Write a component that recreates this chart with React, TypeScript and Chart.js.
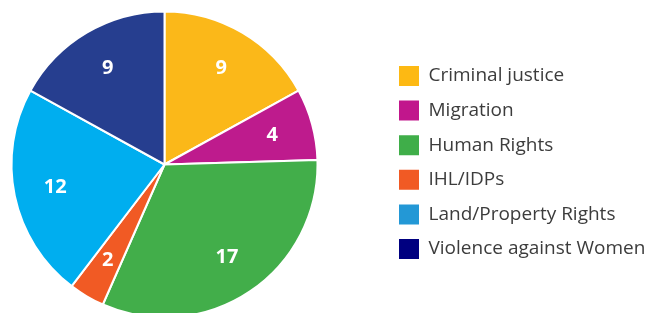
import React, { useEffect, useRef } from "react";
import { Chart, registerables } from "chart.js";

Chart.register(...registerables);

const categories = [
  "Criminal justice",
  "Migration",
  "Human Rights",
  "IHL/IDPs",
  "Land/Property Rights",
  "Violence against Women",
];
const values = [9, 4, 17, 2, 12, 9];
const sliceColors = ["#FBB819", "#BE1B8D", "#42AE4A", "#F15A24", "#00AEEF", "#263E8F"];
const legendColors = ["#FDB913", "#C1168C", "#3FAE49", "#F15A24", "#2398D6", "#000080"];

const CANVAS_W = 649;
const CANVAS_H = 312;
const AREA_RIGHT = 310.5;
const LEGEND_BOX_X = 391;
const LEGEND_FIRST_Y = 58;
const LEGEND_PAD = 14.6;
const LEGEND_FONT = 19;

const legendPlacer = {
  id: "legendPlacer",
  beforeLayout(chart: any) {
    const lg = chart.legend;
    if (lg && !lg.__patched) {
      const orig = lg.fit.bind(lg);
      lg.fit = function () {
        orig();
        this.width = CANVAS_W - AREA_RIGHT;
      };
      lg.__patched = true;
    }
  },
  afterLayout(chart: any) {
    const lg = chart.legend;
    if (!lg) return;
    lg.left = LEGEND_BOX_X - LEGEND_PAD;
    lg.right = CANVAS_W;
    lg.width = lg.right - lg.left;
    lg.top = LEGEND_FIRST_Y - LEGEND_PAD;
    lg.bottom = CANVAS_H;
    lg.height = lg.bottom - lg.top;
  },
};

const valueLabels = {
  id: "valueLabels",
  afterDatasetsDraw(chart: any) {
    const meta = chart.getDatasetMeta(0);
    const ctx = chart.ctx;
    ctx.save();
    ctx.fillStyle = "#ffffff";
    ctx.font = 'bold 20px "Open Sans"';
    ctx.textAlign = "center";
    ctx.textBaseline = "middle";
    meta.data.forEach((arc: any, i: number) => {
      const { x, y, startAngle, endAngle, outerRadius } = arc.getProps(
        ["x", "y", "startAngle", "endAngle", "outerRadius"],
        true
      );
      const mid = (startAngle + endAngle) / 2;
      const r = outerRadius * 0.73;
      ctx.fillText(String(values[i]), x + Math.cos(mid) * r, y + Math.sin(mid) * r);
    });
    ctx.restore();
  },
};

export default function App() {
  const ref = useRef<HTMLCanvasElement | null>(null);
  useEffect(() => {
    document.body.style.overflow = "hidden";
    if (!ref.current) return;
    const chart = new Chart(ref.current, {
      type: "pie",
      data: {
        labels: categories,
        datasets: [
          {
            data: values,
            backgroundColor: sliceColors,
            borderColor: "#ffffff",
            borderWidth: 2,
          },
        ],
      },
      options: {
        responsive: false,
        animation: false,
        layout: { padding: { top: 2.5, left: 2.5, bottom: 1.5, right: 0 } },
        plugins: {
          tooltip: { enabled: false },
          legend: {
            display: true,
            position: "right",
            align: "start",
            labels: {
              boxWidth: 20,
              boxHeight: 20,
              padding: LEGEND_PAD,
              color: "#3c3c3c",
              font: { family: '"Open Sans"', size: LEGEND_FONT },
              generateLabels: () =>
                categories.map((c, i) => ({
                  text: c,
                  fillStyle: legendColors[i],
                  strokeStyle: legendColors[i],
                  lineWidth: 0,
                  hidden: false,
                  index: i,
                  fontColor: "#3c3c3c",
                })),
            },
          },
        },
      },
      plugins: [legendPlacer, valueLabels],
    });
    return () => chart.destroy();
  }, []);
  return (
    <canvas ref={ref} width={CANVAS_W} height={CANVAS_H} style={{ display: "block" }} />
  );
}
